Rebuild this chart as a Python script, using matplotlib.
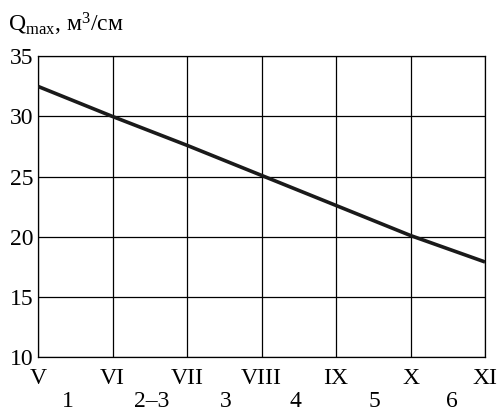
import matplotlib
matplotlib.use('Agg')
import matplotlib.pyplot as plt

months = ['V', 'VI', 'VII', 'VIII', 'IX', 'X', 'XI']
q_max = [32.5, 30.0, 27.6, 25.1, 22.6, 20.1, 17.9]
stages = ['1', '2–3', '3', '4', '5', '6']
stage_pos = [0.4, 1.52, 2.52, 3.45, 4.52, 5.56]
y_ticks = [10, 15, 20, 25, 30, 35]

plt.rcParams['font.family'] = ['Liberation Serif', 'DejaVu Serif']
plt.rcParams['mathtext.fontset'] = 'custom'
plt.rcParams['mathtext.rm'] = 'Liberation Serif'
plt.rcParams['mathtext.it'] = 'Liberation Serif:italic'

fig = plt.figure(figsize=(5.04, 4.13), dpi=100)
ax = fig.add_axes([0.0754, 0.1356, 0.887, 0.728])

x = list(range(len(months)))
ax.plot(x, q_max, color='#1a1a1a', lw=2.6, solid_capstyle='butt', zorder=3)

ax.set_xlim(0, len(months) - 1)
ax.set_ylim(10, 35)
ax.set_xticks(x)
ax.set_xticklabels(months, fontsize=17)
ax.set_yticks(y_ticks)
ax.set_yticklabels([str(v) for v in y_ticks], fontsize=17)
ax.tick_params(axis='y', length=0, pad=3)
ax.tick_params(axis='x', length=0, pad=8)
ax.grid(True, color='black', lw=0.9)
for s in ax.spines.values():
    s.set_linewidth(0.9)

# второй ряд подписей (номера этапов)
for p, lab in zip(stage_pos, stages):
    ax.text(p, -0.147, lab, transform=ax.get_xaxis_transform(),
            ha='center', va='center', fontsize=17)

fig.text(8 / 504, 1 - 32 / 413, r'Q$_{\rm max}$, м$^3$/см', fontsize=17,
         ha='left', va='baseline')

fig.savefig('out.png', dpi=100)
